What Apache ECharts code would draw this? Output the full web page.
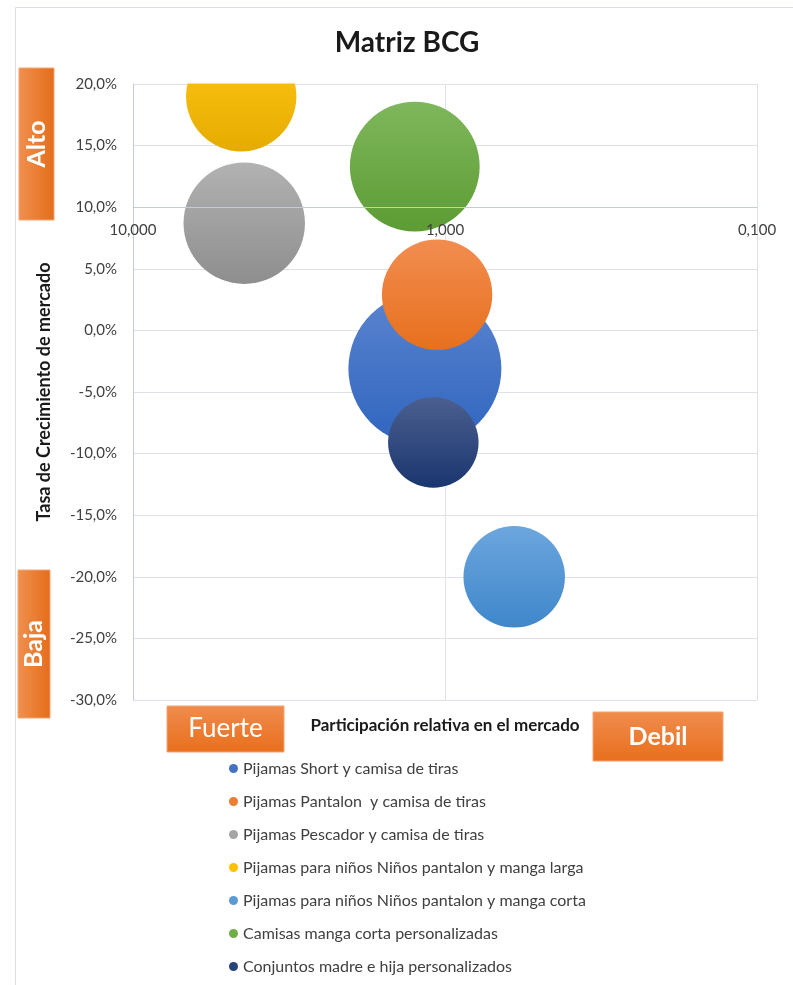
<!DOCTYPE html>
<html style="height: 100%">
<head>
<meta charset="UTF-8">
<title>Matriz BCG</title>
<script src="https://cdn.jsdelivr.net/npm/echarts@6/dist/echarts.min.js"></script>
</head>
<body style="height: 100%;margin: 0">
<div id="container" style="width: 793px;height: 985px"></div>
<script type="text/javascript">
// productos (legend order)
var productos = [
    'Pijamas Short y camisa de tiras',
    'Pijamas Pantalon  y camisa de tiras',
    'Pijamas Pescador y camisa de tiras',
    'Pijamas para niños Niños pantalon y manga larga',
    'Pijamas para niños Niños pantalon y manga corta',
    'Camisas manga corta personalizadas',
    'Conjuntos madre e hija personalizados'
];
// participacion relativa en el mercado (log axis)
var participacion = [1.16, 1.06, 4.4, 4.5, 0.60, 1.25, 1.09];
// tasa de crecimiento (%)
var crecimiento = [-3.1, 2.9, 8.7, 19.0, -20.0, 13.3, -9.1];
// tamaño relativo de burbuja (area)
var tamano = [100, 52, 63, 52, 44, 72, 35];

var colores = [
    ['#5B84CF', '#2F65BF', '#4472C4'],
    ['#F28D50', '#E7701D', '#ED7D31'],
    ['#B2B2B2', '#8E8E8E', '#A5A5A5'],
    ['#FFC816', '#E6AB00', '#FFC000'],
    ['#6CA6DE', '#3F87CB', '#5B9BD5'],
    ['#7FB75C', '#5C9C33', '#70AD47'],
    ['#4B5F8F', '#1A366F', '#264478']
];

var fuente = 'Lato, "Open Sans", sans-serif';
var dom = document.getElementById("container");
var myChart = echarts.init(dom);

function grad(c1, c2, horiz) {
    return new echarts.graphic.LinearGradient(0, 0, horiz ? 1 : 0, horiz ? 0 : 1, [
        {offset: 0, color: c1}, {offset: 1, color: c2}
    ]);
}

var series = productos.map(function (nombre, i) {
    return {
        name: nombre,
        type: 'scatter',
        xAxisIndex: 0,
        yAxisIndex: 0,
        symbolSize: function (val) {
            return 153 * Math.sqrt(val[2] / 100);
        },
        itemStyle: {
            color: grad(colores[i][0], colores[i][1], false),
            opacity: 1
        },
        emphasis: {disabled: true},
        data: [[participacion[i], crecimiento[i], tamano[i]]]
    };
});

function caja(x, y, w, h, texto, bold, rot, horiz, size) {
    return {
        type: 'group',
        children: [{
            type: 'rect',
            shape: {x: x, y: y, width: w, height: h},
            style: {
                fill: horiz ? grad('#F0904F', '#E46D1A', true) : grad('#F08C4E', '#E86F1C', false),
                stroke: '#F4A574',
                lineWidth: 1
            }
        }, {
            type: 'text',
            x: x + w / 2,
            y: y + h / 2,
            rotation: rot,
            style: {
                text: texto,
                fill: '#ffffff',
                font: (bold ? 'bold ' : '') + size + 'px ' + fuente,
                align: 'center',
                verticalAlign: 'middle'
            }
        }]
    };
}

var option = {
    backgroundColor: '#ffffff',
    animation: false,
    title: {
        text: 'Matriz BCG',
        left: 402,
        top: 24,
        textAlign: 'center',
        z: 8,
        textStyle: {fontFamily: fuente, fontWeight: 'bold', fontSize: 28, color: '#1a1a1a'}
    },
    legend: {
        orient: 'vertical',
        left: 224,
        top: 755,
        icon: 'circle',
        itemWidth: 9,
        itemHeight: 9,
        itemGap: 16,
        selectedMode: false,
        data: productos.map(function (n, i) {
            return {name: n, itemStyle: {color: colores[i][2]}};
        }),
        textStyle: {fontFamily: fuente, fontSize: 16, color: '#404040', lineHeight: 17}
    },
    grid: [
        {left: 133, top: 84, width: 624, height: 616},
        {left: 133, top: 84, width: 624, height: 123.2}
    ],
    xAxis: [{
        gridIndex: 0,
        type: 'log',
        logBase: 10,
        min: 0.1,
        max: 10,
        inverse: true,
        name: 'Participación relativa en el mercado',
        nameLocation: 'middle',
        nameGap: 17,
        nameTextStyle: {fontFamily: fuente, fontWeight: 'bold', fontSize: 17, color: '#1a1a1a'},
        axisLine: {show: false},
        axisTick: {show: false},
        axisLabel: {show: false},
        splitLine: {show: true, lineStyle: {color: '#DCE1EA', width: 1}}
    }, {
        gridIndex: 1,
        type: 'log',
        logBase: 10,
        min: 0.1,
        max: 10,
        inverse: true,
        z: 10,
        axisLine: {show: true, lineStyle: {color: '#C3CBDA', width: 1}},
        axisTick: {show: false},
        splitLine: {show: false},
        axisLabel: {
            margin: 15,
            fontFamily: fuente,
            fontSize: 15,
            color: '#404040',
            formatter: function (v) { return v.toFixed(3).replace('.', ','); }
        }
    }],
    yAxis: [{
        gridIndex: 0,
        type: 'value',
        min: -30,
        max: 20,
        interval: 5,
        name: 'Tasa de Crecimiento de mercado',
        nameLocation: 'middle',
        nameRotate: 90,
        nameGap: 80,
        nameTextStyle: {fontFamily: fuente, fontWeight: 'bold', fontSize: 18, color: '#1a1a1a'},
        axisLine: {show: true, lineStyle: {color: '#C3CBDA'}},
        axisTick: {show: false},
        axisLabel: {
            margin: 16,
            fontFamily: fuente,
            fontSize: 15,
            color: '#404040',
            formatter: function (v) { return v.toFixed(1).replace('.', ',') + '%'; }
        },
        splitLine: {show: true, lineStyle: {color: '#DCE1EA', width: 1}}
    }, {
        gridIndex: 1,
        type: 'value',
        show: false
    }],
    graphic: [
        // hides the part of the bubbles above the plot area
        {
            type: 'rect',
            silent: true,
            z: 5,
            shape: {x: 134, y: 0, width: 659, height: 83.5},
            style: {fill: '#ffffff'}
        },
        {
            type: 'rect',
            silent: true,
            z: 9,
            shape: {x: 15.5, y: 7.5, width: 800, height: 1000},
            style: {fill: 'none', stroke: '#DADDE2', lineWidth: 1}
        },
        caja(19, 68, 35, 152, 'Alto', true, Math.PI / 2, true, 25),
        caja(18, 570, 32, 148, 'Baja', true, Math.PI / 2, true, 25),
        caja(167, 706, 117, 46, 'Fuerte', false, 0, false, 26),
        caja(593, 712, 130, 49, 'Debil', true, 0, false, 25)
    ],
    series: series
};

myChart.setOption(option, true);
</script>
</body>
</html>
